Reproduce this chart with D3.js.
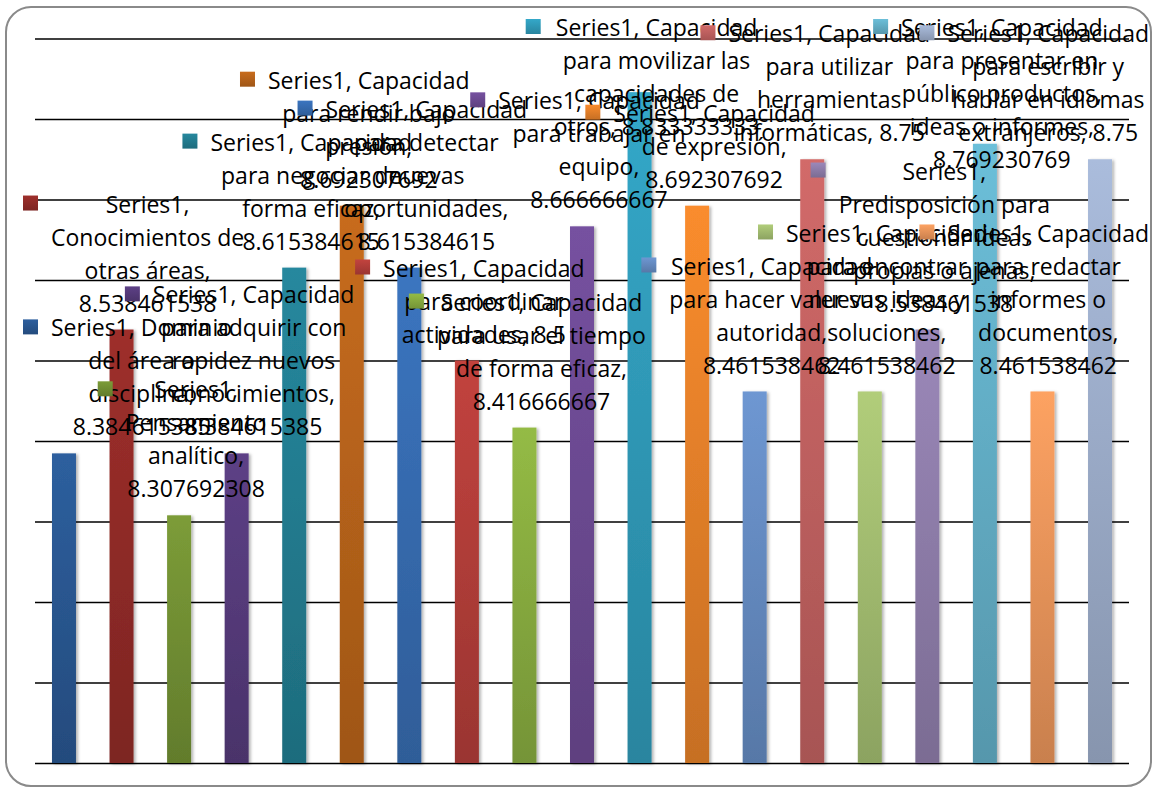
<!DOCTYPE html>
<html>
<head>
<meta charset="utf-8">
<script src="https://cdn.jsdelivr.net/npm/d3@7"></script>
<style>
  body { margin: 0; background: #fff; }
  svg { display: block; }
  .grid line { stroke: #000; stroke-width: 1.6; }
  .grid .domain { display: none; }
  .grid text { display: none; }
  .lbl text { font-family: "Open Sans", sans-serif; font-size: 23px; fill: #000; }
</style>
</head>
<body>
<div class="chart"></div>
<script>
// data
var seriesName = 'Series1'
var categories = [
    'Dominio del área o disciplina',
    'Conocimientos de otras áreas',
    'Pensamiento analítico',
    'Capacidad para adquirir con rapidez nuevos conocimientos',
    'Capacidad para negociar de forma eficaz',
    'Capacidad para rendir bajo presión',
    'Capacidad para detectar nuevas oportunidades',
    'Capacidad para coordinar actividades',
    'Capacidad para usar el tiempo de forma eficaz',
    'Capacidad para trabajar en equipo',
    'Capacidad para movilizar las capacidades de otros',
    'Capacidad de expresión',
    'Capacidad para hacer valer su autoridad',
    'Capacidad para utilizar herramientas informáticas',
    'Capacidad para encontrar nuevas ideas y soluciones',
    'Predisposición para cuestionar ideas propias o ajenas',
    'Capacidad para presentar en público productos, ideas o informes',
    'Capacidad para redactar informes o documentos',
    'Capacidad para escribir y hablar en idiomas extranjeros'
]
var values = [
    8.384615385, 8.538461538, 8.307692308, 8.384615385, 8.615384615,
    8.692307692, 8.615384615, 8.5, 8.416666667, 8.666666667,
    8.833333333, 8.692307692, 8.461538462, 8.75, 8.461538462,
    8.538461538, 8.769230769, 8.461538462, 8.75
]
var yDomain = [8.0, 8.9]

// bar colours (top of gradient)
var colors = [
    '#2d5f9e', '#9e2f2b', '#7c9c38', '#5d4086', '#26889e', '#c86c1d',
    '#3b75c0', '#c2433e', '#94bb45', '#7651a0', '#34a8c9', '#fa8c2d',
    '#6e97d2', '#d26a69', '#b1cd7a', '#9b88b9', '#6cbfd9', '#fda262',
    '#aabcdc'
]

var svgWidth = 1153
var svgHeight = 788
var plot = { left: 35, right: 1129, top: 38.5, bottom: 763 }
var lineH = 33
var keySize = 15
var keyGap = 13
var maxLineW = 215

var svg = d3.select('.chart').append('svg')
    .attr('width', svgWidth)
    .attr('height', svgHeight)

var defs = svg.append('defs')
var shadow = defs.append('filter').attr('id', 'shadow')
    .attr('x', '-30%').attr('y', '-5%').attr('width', '160%').attr('height', '110%')
shadow.append('feDropShadow')
    .attr('dx', 2).attr('dy', 1).attr('stdDeviation', 1.6)
    .attr('flood-color', '#000').attr('flood-opacity', 0.3)

colors.forEach(function(c, i) {
    var g = defs.append('linearGradient').attr('id', 'grad' + i)
        .attr('x1', 0).attr('y1', 0).attr('x2', 0).attr('y2', 1)
    g.append('stop').attr('offset', '0%').attr('stop-color', c)
    g.append('stop').attr('offset', '100%').attr('stop-color', d3.color(c).darker(0.65))
})

// outer frame
svg.append('rect')
    .attr('x', 6).attr('y', 7)
    .attr('width', 1145).attr('height', 779)
    .attr('rx', 25).attr('ry', 25)
    .attr('fill', '#fff')
    .attr('stroke', '#8a8a8a')
    .attr('stroke-width', 2)

var x = d3.scaleBand()
    .domain(categories)
    .range([plot.left, plot.right])
    .paddingInner(0.583)
    .paddingOuter(0.295)

var y = d3.scaleLinear()
    .domain(yDomain)
    .range([plot.bottom, plot.top])

// gridlines
svg.append('g')
    .attr('class', 'grid')
    .attr('transform', `translate(${plot.left}, 0)`)
    .call(d3.axisLeft(y).ticks(10).tickSize(-(plot.right - plot.left)))

// bars
svg.append('g').selectAll('rect')
    .data(values)
    .join('rect')
    .attr('x', (d, i) => x(categories[i]))
    .attr('y', d => y(d))
    .attr('width', x.bandwidth())
    .attr('height', d => plot.bottom - y(d))
    .attr('fill', (d, i) => `url(#grad${i})`)
    .attr('filter', 'url(#shadow)')

// data labels with legend key
var measure = svg.append('g').attr('class', 'lbl').append('text')
function textW(s) {
    measure.text(s)
    return measure.node().getComputedTextLength()
}
function wrap(s) {
    var words = s.split(' ')
    var lines = []
    var cur = ''
    words.forEach(w => {
        var t = cur ? cur + ' ' + w : w
        if (cur && textW(t) > maxLineW) {
            lines.push(cur)
            cur = w
        } else {
            cur = t
        }
    })
    lines.push(cur)
    return lines
}

var labels = svg.append('g').attr('class', 'lbl')
values.forEach(function(v, i) {
    var lines = wrap(`${seriesName}, ${categories[i]}, ${v}`)
    var W = d3.max(lines, textW)
    var groupW = keySize + keyGap + W
    var cx = x(categories[i]) + x.bandwidth() / 2 + 3
    var left = cx - groupW / 2
    left = Math.max(23, Math.min(left, 1149 - groupW))
    var textCx = left + keySize + keyGap + W / 2
    var firstY = Math.max(28, y(v) - lineH * lines.length + 7)

    var g = labels.append('g')
    g.append('rect')
        .attr('x', left)
        .attr('y', firstY - 9)
        .attr('width', keySize)
        .attr('height', keySize)
        .attr('fill', `url(#grad${i})`)
    g.selectAll('text')
        .data(lines)
        .join('text')
        .attr('x', textCx)
        .attr('y', (d, j) => firstY + j * lineH)
        .attr('dy', '0.35em')
        .attr('text-anchor', 'middle')
        .text(d => d)
})
measure.remove()
</script>
</body>
</html>
